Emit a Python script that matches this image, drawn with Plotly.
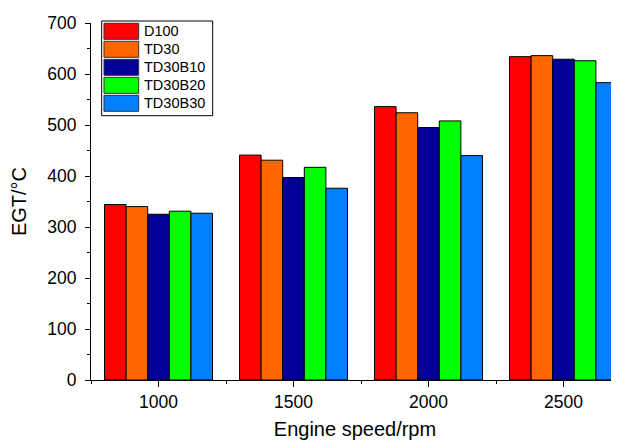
import plotly.graph_objects as go

speeds = [1000, 1500, 2000, 2500]
minor_speeds = [750, 1250, 1750, 2250]
series_names = ["D100", "TD30", "TD30B10", "TD30B20", "TD30B30"]
D100 = [344, 441, 536, 634]
TD30 = [340, 431, 524, 636]
TD30B10 = [325, 397, 495, 629]
TD30B20 = [331, 417, 508, 626]
TD30B30 = [327, 376, 440, 583]
colors = ["#FF0000", "#FF6600", "#000099", "#00FF00", "#0080FF"]
values = [D100, TD30, TD30B10, TD30B20, TD30B30]

FONT = "Liberation Sans, Arial, Helvetica, sans-serif"

fig = go.Figure()
for name, vals, col in zip(series_names, values, colors):
    fig.add_trace(go.Bar(x=speeds, y=vals, name=name,
                         marker=dict(color=col, line=dict(color="black", width=1)),
                         showlegend=False))
# empty helper trace so the minor-tick axis is drawn
fig.add_trace(go.Scatter(x=[], y=[], xaxis="x2", yaxis="y", showlegend=False, hoverinfo="skip"))

# page has an 8px body margin; figure is placed at (8, 8)
OFF = 8
W, H = 619 - OFF, 444 - OFF
PL, PT, PB, PR = 91, 23, 380, 619   # plot area in page pixels
L, T, B, R = PL - OFF, PT - OFF, (444 - PB), 0
pw, ph = PR - PL, PB - PT
xrange = [750, 750 + pw / 0.27]

def px(x):
    return (x - PL) / pw

def py(y):
    return (PB - y) / ph

# manual legend (box with large swatches)
shapes = [dict(type="rect", xref="paper", yref="paper", x0=px(101.7), x1=px(212.7), y0=py(115.7), y1=py(21),
               line=dict(color="black", width=1), fillcolor="white", layer="above")]
annotations = []
for i, (name, col) in enumerate(zip(series_names, colors)):
    cy = 31.3 + 18 * i
    shapes.append(dict(type="rect", xref="paper", yref="paper", x0=px(104), x1=px(138.7),
                       y0=py(cy + 8), y1=py(cy - 8),
                       line=dict(color="#333333", width=1), fillcolor=col, layer="above"))
    annotations.append(dict(xref="paper", yref="paper", x=px(141.5), y=py(cy), text=name, showarrow=False,
                            xanchor="left", yanchor="middle",
                            font=dict(size=14.5, color="black", family=FONT)))

fig.update_layout(
    width=W, height=H,
    margin=dict(l=L, r=R, t=T, b=B, pad=0),
    plot_bgcolor="white", paper_bgcolor="white",
    barmode="group", bargap=0.2, bargroupgap=0,
    font=dict(family=FONT, size=17, color="black"),
    shapes=shapes, annotations=annotations,
    xaxis=dict(range=xrange, tickmode="array", tickvals=speeds, ticktext=[str(s) for s in speeds],
               showline=True, linecolor="black", linewidth=1, ticks="outside", ticklen=6, tickcolor="black",
               tickwidth=1.3, showgrid=False, zeroline=False, tickfont=dict(size=17.5),
               title=dict(text="Engine speed/rpm", font=dict(size=20), standoff=10)),
    xaxis2=dict(range=xrange, overlaying="x", anchor="y", side="bottom", tickmode="array",
                tickvals=minor_speeds, showticklabels=False, ticks="outside", ticklen=3, tickcolor="black",
                tickwidth=1, showline=False, showgrid=False, zeroline=False),
    yaxis=dict(range=[0, 700], dtick=100, showline=True, linecolor="black", linewidth=1, ticks="outside",
               ticklen=5, tickcolor="black", showgrid=False, zeroline=False, tickfont=dict(size=17.5),
               ticklabelstandoff=5,
               minor=dict(dtick=50, ticks="outside", ticklen=3, tickcolor="black", showgrid=False),
               title=dict(text="EGT/°C", font=dict(size=20), standoff=16)),
)

fig.write_html("out.html")
